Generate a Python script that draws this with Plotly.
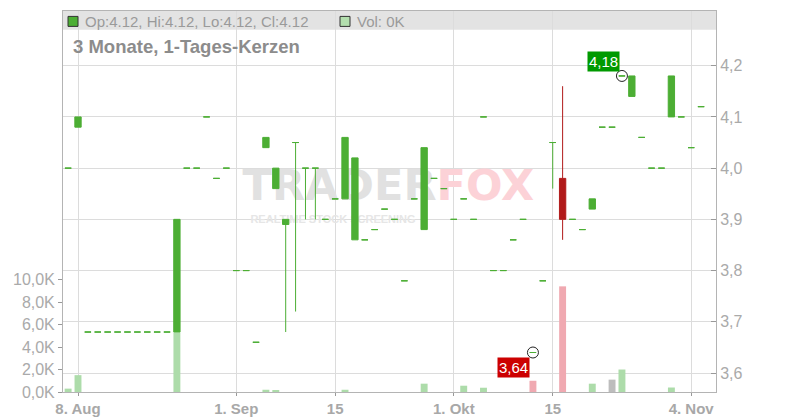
import plotly.graph_objects as go

# trading days shown in the chart (3 months, daily candles)
dates = [
    "2025-08-07", "2025-08-08", "2025-08-11", "2025-08-12", "2025-08-13", "2025-08-14", "2025-08-15",
    "2025-08-18", "2025-08-19", "2025-08-20", "2025-08-21", "2025-08-22", "2025-08-25", "2025-08-26",
    "2025-08-27", "2025-08-28", "2025-08-29", "2025-09-01", "2025-09-02", "2025-09-03", "2025-09-04",
    "2025-09-05", "2025-09-08", "2025-09-09", "2025-09-10", "2025-09-11", "2025-09-12", "2025-09-15",
    "2025-09-16", "2025-09-17", "2025-09-18", "2025-09-19", "2025-09-22", "2025-09-23", "2025-09-24",
    "2025-09-25", "2025-09-26", "2025-09-29", "2025-09-30", "2025-10-01", "2025-10-02", "2025-10-03",
    "2025-10-06", "2025-10-07", "2025-10-08", "2025-10-09", "2025-10-10", "2025-10-13", "2025-10-14",
    "2025-10-15", "2025-10-16", "2025-10-17", "2025-10-20", "2025-10-21", "2025-10-22", "2025-10-23",
    "2025-10-24", "2025-10-27", "2025-10-28", "2025-10-29", "2025-10-30", "2025-10-31", "2025-11-03",
    "2025-11-04", "2025-11-05",
]

open_ = [
    4.00, 4.08, 3.68, 3.68, 3.68, 3.68, 3.68, 3.68, 3.68, 3.68,
    3.68, 3.68, 4.00, 4.00, 4.10, 3.98, 4.00, 3.80, 3.80, 3.66,
    4.04, 3.96, 3.89, 4.05, 4.00, 4.00, 3.90, 3.94, 3.94, 3.86,
    3.86, 3.88, 3.92, 3.90, 3.78, 3.94, 3.88, 3.98, 3.96, 3.90,
    3.94, 3.90, 4.10, 3.80, 3.80, 3.86, 3.90, 3.64, 3.78, 4.05,
    3.98, 3.90, 3.88, 3.92, 4.08, 4.08, 4.18, 4.14, 4.06, 4.00,
    4.00, 4.10, 4.10, 4.04, 4.12,
]
high_ = [
    4.00, 4.10, 3.68, 3.68, 3.68, 3.68, 3.68, 3.68, 3.68, 3.68,
    3.68, 3.90, 4.00, 4.00, 4.10, 3.98, 4.00, 3.80, 3.80, 3.66,
    4.06, 4.00, 3.90, 4.05, 4.00, 4.00, 3.90, 3.94, 4.06, 4.02,
    3.86, 3.88, 3.92, 3.90, 3.78, 3.94, 4.04, 3.98, 3.96, 3.90,
    3.94, 3.90, 4.10, 3.80, 3.80, 3.86, 3.90, 3.64, 3.78, 4.05,
    4.16, 3.90, 3.88, 3.94, 4.08, 4.08, 4.18, 4.18, 4.06, 4.00,
    4.00, 4.18, 4.10, 4.04, 4.12,
]
low_ = [
    4.00, 4.08, 3.68, 3.68, 3.68, 3.68, 3.68, 3.68, 3.68, 3.68,
    3.68, 3.68, 4.00, 4.00, 4.10, 3.98, 4.00, 3.80, 3.80, 3.66,
    4.04, 3.96, 3.68, 3.72, 3.90, 3.90, 3.90, 3.94, 3.94, 3.86,
    3.86, 3.88, 3.92, 3.90, 3.78, 3.94, 3.88, 3.98, 3.96, 3.90,
    3.94, 3.90, 4.10, 3.80, 3.80, 3.86, 3.90, 3.64, 3.78, 3.96,
    3.86, 3.90, 3.88, 3.92, 4.08, 4.08, 4.18, 4.14, 4.06, 4.00,
    4.00, 4.10, 4.10, 4.04, 4.12,
]
close_ = [
    4.00, 4.10, 3.68, 3.68, 3.68, 3.68, 3.68, 3.68, 3.68, 3.68,
    3.68, 3.90, 4.00, 4.00, 4.10, 3.98, 4.00, 3.80, 3.80, 3.66,
    4.06, 4.00, 3.90, 4.05, 4.00, 4.00, 3.90, 3.94, 4.06, 4.02,
    3.86, 3.88, 3.92, 3.90, 3.78, 3.94, 4.04, 3.98, 3.96, 3.90,
    3.94, 3.90, 4.10, 3.80, 3.80, 3.86, 3.90, 3.64, 3.78, 4.05,
    3.90, 3.90, 3.88, 3.94, 4.08, 4.08, 4.18, 4.18, 4.06, 4.00,
    4.00, 4.18, 4.10, 4.04, 4.12,
]
# volume in thousands
volume_k = [
    0.3, 1.5, 0, 0, 0, 0, 0, 0, 0, 0,
    0, 5.3, 0, 0, 0, 0, 0, 0, 0, 0,
    0.2, 0.15, 0, 0, 0, 0, 0, 0, 0.2, 0,
    0, 0, 0, 0, 0, 0, 0.74, 0, 0, 0,
    0.56, 0, 0.38, 0, 0, 0, 0, 1.0, 0, 0,
    9.4, 0, 0, 0.74, 0, 1.1, 2.0, 0, 0, 0,
    0, 0.4, 0, 0, 0,
]

tick_dates = ["2025-08-08", "2025-09-01", "2025-09-15", "2025-10-01", "2025-10-15", "2025-11-04"]
tick_labels = ["8. Aug", "1. Sep", "15", "1. Okt", "15", "4. Nov"]
price_ticks = [3.6, 3.7, 3.8, 3.9, 4.0, 4.1, 4.2]
volume_ticks = [0, 2, 4, 6, 8, 10]

GREEN = "#4cae34"
RED = "#b11a1a"
VOL_UP = "#addcaa"
VOL_DOWN = "#f0a9b1"
VOL_FLAT = "#bdbdbd"
GRID = "#dcdcdc"
AXIS = "#b4b4b4"
LABEL = "#aaaaaa"
FONT = "Liberation Sans, Arial, sans-serif"

# volume colours: by candle direction, flat candles compared with previous close
vol_colors = []
for k in range(len(dates)):
    if close_[k] > open_[k]:
        vol_colors.append(VOL_UP)
    elif close_[k] < open_[k]:
        vol_colors.append(VOL_DOWN)
    elif k == 0 or close_[k] > close_[k - 1]:
        vol_colors.append(VOL_UP)
    elif close_[k] < close_[k - 1]:
        vol_colors.append(VOL_DOWN)
    else:
        vol_colors.append(VOL_FLAT)

down = [k for k in range(len(dates)) if close_[k] < open_[k]]
up = [k for k in range(len(dates)) if k not in down]

fig = go.Figure()

# watermark on the bottom subplot, so candles and bars sit on top of it
fig.add_trace(go.Scatter(
    x=[0.572, 0.572, 0.287], y=[0.531, 0.531, 0.452],
    mode="text", text=["TRADER", "FOX", "REALTIME STOCK SCREENING"],
    textposition=["middle left", "middle right", "middle right"],
    textfont=dict(family=["DejaVu Sans", "DejaVu Sans", FONT], size=[43, 43, 11],
                  color=["#e1e1e1", "#fcd2d7", "#e6e6e6"], weight="bold"),
    hoverinfo="skip", xaxis="x", yaxis="y",
))

fig.add_trace(go.Bar(
    x=dates, y=volume_k, width=0.7,
    marker=dict(color=vol_colors, line=dict(width=0)),
    xaxis="x2", yaxis="y2", hoverinfo="skip",
))

fig.add_trace(go.Candlestick(
    x=[dates[k] for k in up],
    open=[open_[k] for k in up], high=[high_[k] for k in up],
    low=[low_[k] for k in up], close=[close_[k] for k in up],
    increasing=dict(line=dict(color=GREEN, width=1), fillcolor=GREEN),
    decreasing=dict(line=dict(color=GREEN, width=1), fillcolor=GREEN),
    xaxis="x2", yaxis="y3", hoverinfo="skip",
))
fig.add_trace(go.Candlestick(
    x=[dates[k] for k in down],
    open=[open_[k] for k in down], high=[high_[k] for k in down],
    low=[low_[k] for k in down], close=[close_[k] for k in down],
    increasing=dict(line=dict(color=RED, width=1), fillcolor=RED),
    decreasing=dict(line=dict(color=RED, width=1), fillcolor=RED),
    xaxis="x2", yaxis="y3", hoverinfo="skip",
))

idx_hi = high_.index(max(high_))
idx_lo = low_.index(min(low_))

fig.add_trace(go.Scatter(
    x=[dates[idx_hi], dates[idx_lo]], y=[high_[idx_hi], low_[idx_lo]],
    mode="markers",
    marker=dict(symbol="circle-open", size=11, color="#222222", line=dict(width=1)),
    xaxis="x2", yaxis="y3", hoverinfo="skip",
))

fig.add_annotation(
    x=dates[idx_hi], y=high_[idx_hi], xref="x2", yref="y3",
    text=f"{high_[idx_hi]:.2f}".replace(".", ","), showarrow=False,
    xanchor="right", yanchor="bottom", xshift=-2, yshift=4,
    bgcolor="#009a00", borderpad=1, font=dict(color="white", size=15, family=FONT),
)
fig.add_annotation(
    x=dates[idx_lo], y=low_[idx_lo], xref="x2", yref="y3",
    text=f"{low_[idx_lo]:.2f}".replace(".", ","), showarrow=False,
    xanchor="right", yanchor="top", xshift=-3, yshift=-4,
    bgcolor="#cc0000", borderpad=1, font=dict(color="white", size=15, family=FONT),
)

# info bar at the top of the plot
fig.add_annotation(
    x=0, y=1, xref="paper", yref="paper", xanchor="left", yanchor="middle",
    xshift=19.5, yshift=-10.4, showarrow=False,
    text=f"Op:{open_[-1]:.2f}, Hi:{high_[-1]:.2f}, Lo:{low_[-1]:.2f}, Cl:{close_[-1]:.2f}",
    font=dict(size=15, color="#9a9a9a", family=FONT),
)
fig.add_annotation(
    x=0, y=1, xref="paper", yref="paper", xanchor="left", yanchor="middle",
    xshift=292, yshift=-10.4, showarrow=False,
    text=f"Vol: {volume_k[-1]:.0f}K",
    font=dict(size=15, color="#9a9a9a", family=FONT),
)
fig.add_annotation(
    x=0, y=1, xref="paper", yref="paper", xanchor="left", yanchor="middle",
    xshift=7.5, yshift=-35.7, showarrow=False,
    text="3 Monate, 1-Tages-Kerzen",
    font=dict(size=18.5, color="#8c8c8c", family=FONT, weight="bold"),
)

fig.add_shape(type="rect", xref="paper", yref="paper", x0=0, x1=1, y0=1 - 18.7 / 381, y1=1,
              fillcolor="#e3e3e3", line=dict(width=0), layer="below")
fig.add_shape(type="rect", xref="paper", yref="paper", xsizemode="pixel", ysizemode="pixel",
              xanchor=0, yanchor=1, x0=5, x1=15, y0=-15.4, y1=-5.4,
              fillcolor=GREEN, line=dict(color="#333333", width=1))
fig.add_shape(type="rect", xref="paper", yref="paper", xsizemode="pixel", ysizemode="pixel",
              xanchor=0, yanchor=1, x0=277, x1=287, y0=-15.4, y1=-5.4,
              fillcolor="#b3dfae", line=dict(color="#333333", width=1))

fig.update_layout(
    width=800, height=420,
    margin=dict(l=63, r=84, t=11, b=28, autoexpand=False),
    paper_bgcolor="white", plot_bgcolor="white",
    separators=",.",
    showlegend=False, hovermode=False,
    font=dict(family=FONT, size=16, color=LABEL),
    boxgap=0.36, boxgroupgap=0,
    xaxis=dict(range=[0, 1], visible=False),
    yaxis=dict(range=[0, 1], visible=False),
    xaxis2=dict(
        overlaying="x", type="category", range=[-0.517, 65.51],
        tickvals=tick_dates, ticktext=tick_labels,
        showgrid=True, gridcolor=GRID, gridwidth=1,
        ticks="outside", ticklen=3, tickcolor="#999999",
        showline=True, mirror=True, linecolor=AXIS, linewidth=1,
        tickfont=dict(size=15, weight="bold", color="#a8a8a8"),
        rangeslider=dict(visible=False), automargin=False,
    ),
    yaxis2=dict(
        overlaying="y", side="left", range=[0, 33.9],
        tickvals=volume_ticks,
        ticktext=[f"{v:.1f}K".replace(".", ",") for v in volume_ticks],
        showgrid=False, zeroline=False,
        ticks="outside", ticklen=4, tickcolor="#999999",
        showline=True, linecolor=AXIS, linewidth=1,
        tickfont=dict(size=16, color=LABEL), automargin=False,
    ),
    yaxis3=dict(
        overlaying="y", side="right", range=[3.5629, 4.3068],
        tickvals=price_ticks, tickformat=".1f",
        showgrid=True, gridcolor=GRID, gridwidth=1, zeroline=False,
        ticks="inside", ticklen=5, tickcolor="#999999",
        showline=True, linecolor=AXIS, linewidth=1,
        tickfont=dict(size=16, color=LABEL), automargin=False,
    ),
)

fig.write_html("out.html", config={"displayModeBar": False},
               post_script="document.body.style.margin = '0px';")
